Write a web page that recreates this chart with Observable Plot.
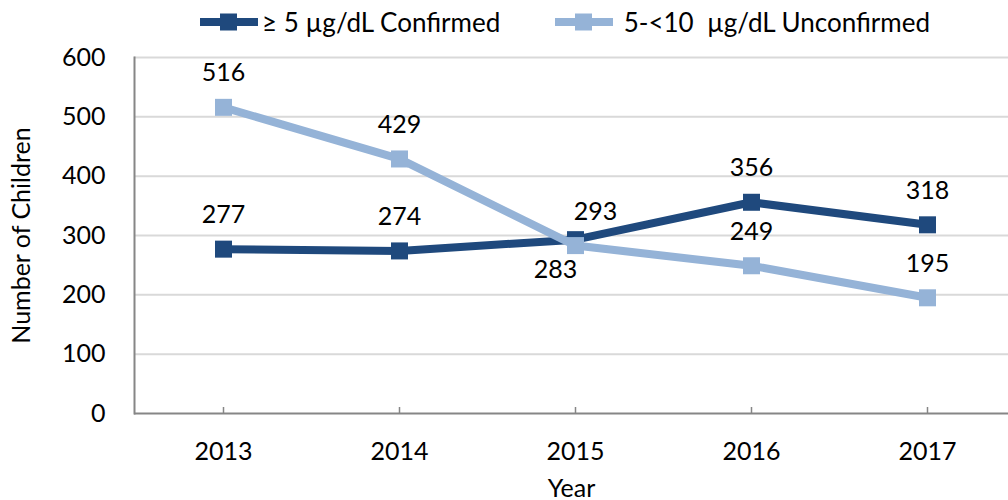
<!DOCTYPE html>
<html>
<head>
<meta charset="utf-8">
<script src="https://cdn.jsdelivr.net/npm/d3@7"></script>
<script src="https://cdn.jsdelivr.net/npm/@observablehq/plot@0.6"></script>
<style>
  html, body { margin: 0; padding: 0; background: #fff; }
  body { width: 1008px; height: 500px; overflow: hidden; font-family: Lato, "Open Sans", sans-serif; }
  #legend { position: relative; height: 30px; width: 1008px; }
  .item { position: absolute; top: 0; height: 44px; display: flex; align-items: center; font-size: 26px; color: #000; white-space: pre; }
  .item svg { margin-right: 4px; }
</style>
</head>
<body>
<div id="legend"></div>
<div id="chart"></div>
<script>
const years = ["2013", "2014", "2015", "2016", "2017"];
const confirmed = [277, 274, 293, 356, 318];
const unconfirmed = [516, 429, 283, 249, 195];
const seriesNames = ["≥ 5 µg/dL Confirmed", "5-<10  µg/dL Unconfirmed"];
const seriesColors = ["#1F497D", "#95B3D7"];
const yTicks = [0, 100, 200, 300, 400, 500, 600];

const rowsC = years.map((y, i) => ({year: y, value: confirmed[i], series: seriesNames[0]}));
const rowsU = years.map((y, i) => ({year: y, value: unconfirmed[i], series: seriesNames[1]}));

// Legend
const legend = document.getElementById("legend");
const legendLeft = [200, 555];
seriesNames.forEach((name, i) => {
  const d = document.createElement("div");
  d.className = "item";
  d.style.left = legendLeft[i] + "px";
  d.innerHTML = `<svg width="58" height="20"><line x1="0" x2="58" y1="10" y2="10" stroke="${seriesColors[i]}" stroke-width="8"/><rect x="20" y="1.5" width="17" height="17" fill="${seriesColors[i]}"/></svg>${i === 0 ? "" : " "}${name.replace(/</g, "&lt;")}`;
  legend.appendChild(d);
});

const fs = 25;
const chart = Plot.plot({
  width: 1008,
  height: 470,
  marginTop: 27,
  marginBottom: 87,
  marginLeft: 134,
  marginRight: 0,
  style: {fontFamily: "Lato, 'Open Sans', sans-serif", fontSize: fs + "px", color: "#000", background: "#fff"},
  x: {type: "point", domain: years, range: [221.6, 928], padding: 0},
  y: {domain: [0, 600]},
  marks: [
    Plot.ruleY(yTicks.filter(d => d > 0), {stroke: "#d9d9d9", strokeWidth: 2}),
    Plot.frame({anchor: "left", stroke: "#868686", strokeWidth: 2}),
    Plot.ruleY([0], {stroke: "#868686", strokeWidth: 2}),
    Plot.axisY({ticks: yTicks, tickSize: 0, tickPadding: 29, fontSize: fs, label: "Number of Children", labelAnchor: "center", labelArrow: "none", labelOffset: 122}),
    Plot.axisX({tickSize: -6, text: null, stroke: "#868686", strokeWidth: 1.5, label: null}),
    Plot.axisX({tickSize: 0, tickPadding: 29, fontSize: fs, label: "Year", labelAnchor: "center", labelArrow: "none", labelOffset: 83}),
    Plot.line(rowsC, {x: "year", y: "value", stroke: seriesColors[0], strokeWidth: 8}),
    Plot.dot(rowsC, {x: "year", y: "value", symbol: "square", r: 9.6, fill: seriesColors[0], stroke: "none"}),
    Plot.line(rowsU, {x: "year", y: "value", stroke: seriesColors[1], strokeWidth: 8}),
    Plot.dot(rowsU, {x: "year", y: "value", symbol: "square", r: 9.6, fill: seriesColors[1], stroke: "none"}),
    Plot.text(rowsC.filter(d => d.year !== "2015"), {x: "year", y: "value", text: d => String(d.value), dy: -34, fill: "#000", fontSize: fs}),
    Plot.text(rowsC.filter(d => d.year === "2015"), {x: "year", y: "value", text: d => String(d.value), dx: 20, dy: -28, fill: "#000", fontSize: fs}),
    Plot.text(rowsU.filter(d => d.year !== "2015"), {x: "year", y: "value", text: d => String(d.value), dy: -34, fill: "#000", fontSize: fs}),
    Plot.text(rowsU.filter(d => d.year === "2015"), {x: "year", y: "value", text: d => String(d.value), dx: -20, dy: 24, fill: "#000", fontSize: fs})
  ]
});
document.getElementById("chart").appendChild(chart);
</script>
</body>
</html>
